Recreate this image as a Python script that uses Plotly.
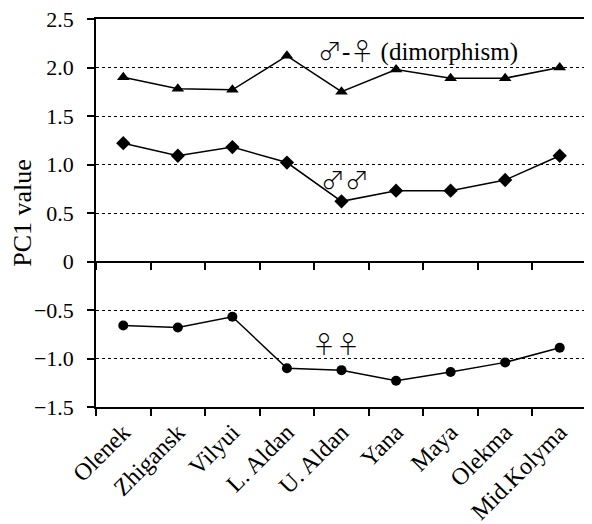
import plotly.graph_objects as go

categories = ["Olenek", "Zhigansk", "Vilyui", "L. Aldan", "U. Aldan", "Yana", "Maya", "Olekma", "Mid.Kolyma"]
dimorphism = [1.90, 1.78, 1.77, 2.12, 1.75, 1.98, 1.89, 1.89, 2.00]
males = [1.22, 1.09, 1.18, 1.02, 0.62, 0.73, 0.73, 0.84, 1.09]
females = [-0.66, -0.68, -0.57, -1.10, -1.12, -1.23, -1.14, -1.04, -0.89]
y_ticks = [2.5, 2.0, 1.5, 1.0, 0.5, 0, -0.5, -1.0, -1.5]
y_ticktext = ["2.5", "2.0", "1.5", "1.0", "0.5", "0", "\u22120.5", "\u22121.0", "\u22121.5"]

FONT = "Liberation Serif"
SYM = "font-family:'Noto Sans CJK JP';font-weight:300;font-size:24px"

fig = go.Figure()
line = dict(color="black", width=1.5)
fig.add_trace(go.Scatter(x=categories, y=dimorphism, mode="lines+markers", line=line,
                         marker=dict(symbol="triangle-up", size=11, color="black"), showlegend=False))
fig.add_trace(go.Scatter(x=categories, y=males, mode="lines+markers", line=line,
                         marker=dict(symbol="diamond", size=11, color="black"), showlegend=False,
                         xaxis="x2"))
fig.add_trace(go.Scatter(x=categories, y=females, mode="lines+markers", line=line,
                         marker=dict(symbol="circle", size=10, color="black"), showlegend=False))

fig.update_layout(
    width=592, height=524,
    margin=dict(l=88, r=13, t=11, b=125, autoexpand=False),
    paper_bgcolor="white", plot_bgcolor="white",
    font=dict(family=FONT, size=22, color="black"),
    xaxis=dict(type="category", categoryarray=categories, range=[-0.5, 8.5], automargin=False,
               tickson="boundaries", ticks="outside", ticklen=7, tickwidth=1.5, tickcolor="black",
               tickangle=-45, tickfont=dict(family=FONT, size=24, color="black"),
               ticklabeloverflow="allow",
               showline=True, linecolor="black", linewidth=1.5, mirror=True,
               showgrid=False, zeroline=False),
    xaxis2=dict(type="category", categoryarray=categories, range=[-0.5, 8.5], automargin=False,
                overlaying="x", anchor="free", position=0.375, side="bottom",
                tickson="boundaries", ticks="outside", ticklen=7, tickwidth=1.5, tickcolor="black",
                showticklabels=False, showline=False, showgrid=False, zeroline=False),
    yaxis=dict(range=[-1.5, 2.5], tickvals=y_ticks, ticktext=y_ticktext, automargin=False,
               ticks="outside", ticklen=7, tickwidth=1.5, tickcolor="black",
               tickfont=dict(family=FONT, size=22, color="black"),
               ticklabeloverflow="allow", ticklabelstandoff=9,
               showline=True, linecolor="black", linewidth=1.5, mirror=True,
               showgrid=True, gridcolor="black", griddash="dot", gridwidth=1.2,
               zeroline=True, zerolinecolor="black", zerolinewidth=2,
               title=dict(text="PC1 value", font=dict(family=FONT, size=26, color="black"), standoff=2)),
)

fig.add_annotation(x=5.4, y=2.19, xref="x", yref="y",
                   text=f"<span style=\"{SYM}\">\u2642</span>-<span style=\"{SYM}\">\u2640</span> (dimorphism)",
                   showarrow=False, font=dict(family=FONT, size=25, color="black"))
fig.add_annotation(x=4.06, y=0.86, xref="x", yref="y",
                   text=f"<span style=\"{SYM}\">\u2642\u2642</span>",
                   showarrow=False, font=dict(family=FONT, size=22, color="black"))
fig.add_annotation(x=3.9, y=-0.83, xref="x", yref="y",
                   text=f"<span style=\"{SYM}\">\u2640\u2640</span>",
                   showarrow=False, font=dict(family=FONT, size=22, color="black"))

fig.write_html("out.html")
